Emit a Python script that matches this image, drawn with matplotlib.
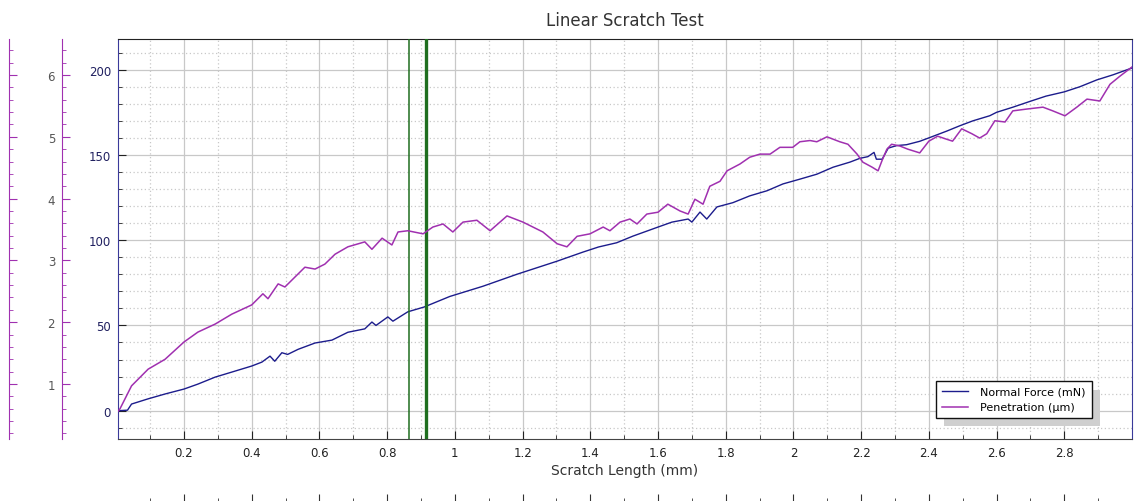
import matplotlib
matplotlib.use("Agg")
import matplotlib.pyplot as plt
from matplotlib.ticker import FixedLocator, MultipleLocator, FuncFormatter

# Normal force (mN) against scratch length (mm)
force_x = [0.005, 0.033, 0.045, 0.093, 0.144, 0.200, 0.241, 0.292, 0.342, 0.400,
           0.430, 0.454, 0.468, 0.489, 0.506, 0.537, 0.587, 0.637, 0.684, 0.734,
           0.755, 0.767, 0.802, 0.817, 0.861, 0.909, 0.985, 1.083, 1.183, 1.302,
           1.378, 1.424, 1.478, 1.526, 1.600, 1.641, 1.689, 1.700, 1.724, 1.744,
           1.774, 1.821, 1.871, 1.922, 1.969, 2.019, 2.069, 2.117, 2.167, 2.196,
           2.220, 2.238, 2.245, 2.262, 2.280, 2.305, 2.334, 2.373, 2.400, 2.453,
           2.490, 2.530, 2.580, 2.600, 2.648, 2.700, 2.746, 2.800, 2.846, 2.896,
           2.944, 3.000]
force_mn = [0, 0.3, 3.9, 6.9, 9.8, 12.7, 15.6, 19.7, 22.7, 26.2,
            28.5, 32.0, 29.0, 34.0, 33.0, 36.0, 39.7, 41.4, 46.0, 48.0,
            52.0, 50.0, 55.0, 52.5, 58.0, 60.8, 67.0, 73.0, 80.0, 87.7,
            93.0, 96.0, 98.5, 102.4, 107.7, 110.6, 112.4, 110.6, 116.5, 112.4,
            119.5, 122.0, 126.0, 129.0, 133.0, 135.8, 138.7, 142.8, 145.8, 148.0,
            149.0, 151.5, 147.5, 147.5, 154.0, 155.5, 156.0, 158.0, 160.0, 164.0,
            167.0, 170.0, 173.0, 175.0, 178.0, 181.5, 184.5, 187.0, 190.0, 194.0,
            197.0, 201.0]

# Penetration (um) against scratch length (mm)
pen_x = [0.005, 0.011, 0.045, 0.094, 0.144, 0.200, 0.241, 0.292, 0.341, 0.400,
         0.433, 0.448, 0.478, 0.498, 0.557, 0.587, 0.616, 0.646, 0.684, 0.734,
         0.755, 0.785, 0.814, 0.832, 0.861, 0.906, 0.935, 0.965, 0.994, 1.024,
         1.065, 1.104, 1.154, 1.201, 1.260, 1.302, 1.331, 1.361, 1.399, 1.438,
         1.458, 1.488, 1.517, 1.538, 1.567, 1.600, 1.629, 1.665, 1.689, 1.709,
         1.733, 1.753, 1.783, 1.804, 1.842, 1.871, 1.901, 1.931, 1.960, 1.998,
         2.019, 2.049, 2.069, 2.099, 2.137, 2.161, 2.188, 2.205, 2.232, 2.250,
         2.262, 2.276, 2.290, 2.315, 2.338, 2.373, 2.400, 2.426, 2.453, 2.470,
         2.497, 2.527, 2.550, 2.571, 2.595, 2.625, 2.648, 2.690, 2.737, 2.766,
         2.802, 2.837, 2.867, 2.905, 2.935, 2.964, 3.000]
pen_um = [0.56, 0.60, 0.97, 1.24, 1.40, 1.68, 1.84, 1.97, 2.13, 2.28,
          2.46, 2.38, 2.62, 2.57, 2.89, 2.86, 2.94, 3.10, 3.22, 3.30,
          3.18, 3.36, 3.25, 3.46, 3.48, 3.43, 3.54, 3.59, 3.46, 3.62,
          3.65, 3.48, 3.72, 3.62, 3.46, 3.27, 3.22, 3.39, 3.43, 3.54,
          3.48, 3.62, 3.67, 3.59, 3.75, 3.78, 3.91, 3.80, 3.75, 3.99,
          3.91, 4.20, 4.28, 4.45, 4.56, 4.67, 4.72, 4.72, 4.83, 4.83,
          4.92, 4.94, 4.92, 5.00, 4.92, 4.88, 4.72, 4.59, 4.51, 4.45,
          4.62, 4.80, 4.88, 4.85, 4.80, 4.74, 4.93, 5.01, 4.96, 4.93,
          5.13, 5.05, 4.98, 5.05, 5.26, 5.24, 5.42, 5.45, 5.48, 5.42,
          5.34, 5.48, 5.61, 5.58, 5.85, 5.98, 6.13]

marker_x = [0.865, 0.914]
x_major = [0.2, 0.4, 0.6, 0.8, 1.0, 1.2, 1.4, 1.6, 1.8, 2.0, 2.2, 2.4, 2.6, 2.8]
x_minor = [0.1, 0.3, 0.5, 0.7, 0.9, 1.1, 1.3, 1.5, 1.7, 1.9, 2.1, 2.3, 2.5, 2.7, 2.9]
force_ticks = [0, 50, 100, 150, 200]
pen_ticks = [1, 2, 3, 4, 5, 6]

navy = "#1c1c8c"
purple = "#a030b0"
gridc = "#c8c8c8"
xlim = (0.005, 3.0)

fig = plt.figure(figsize=(11.36, 5.02), dpi=100)
ax = fig.add_axes([118 / 1136, 62 / 502, 1014 / 1136, 400 / 502])

ln1, = ax.plot(force_x, force_mn, color=navy, lw=1.0, label="Normal Force (mN)")
for i, mx in enumerate(marker_x):
    ax.axvline(mx, color="#1f6e1f", lw=1.1 if i == 0 else 2.4, zorder=4)

ax.set_xlim(*xlim)
ax.set_ylim(-16.6, 218)
ax.xaxis.set_major_locator(FixedLocator(x_major))
ax.xaxis.set_minor_locator(FixedLocator(x_minor))
ax.xaxis.set_major_formatter(FuncFormatter(lambda v, p: f"{v:g}"))
ax.yaxis.set_major_locator(FixedLocator(force_ticks))
ax.yaxis.set_minor_locator(MultipleLocator(10))
ax.grid(which="major", color=gridc, lw=0.9, ls="-")
ax.grid(which="minor", color=gridc, lw=0.9, ls=(0, (1, 2)))
ax.set_axisbelow(True)
ax.tick_params(which="both", direction="in", top=True, right=True,
               labelsize=8.5, colors="#222222")
ax.tick_params(axis="y", labelcolor="#202060", pad=5)
ax.tick_params(axis="x", pad=5)
ax.tick_params(which="major", length=6)
ax.tick_params(which="minor", length=3)
ax.spines["left"].set_color("#3a3a9a")
ax.spines["right"].set_color("#3a3a9a")
ax.spines["top"].set_color("#222222")
ax.spines["bottom"].set_color("#444444")
ax.set_xlabel("Scratch Length (mm)", fontsize=10, color="#333333", labelpad=3)

# penetration axis, drawn on an offset left spine
ax2 = ax.twinx()
ln2, = ax2.plot(pen_x, pen_um, color=purple, lw=1.1, label="Penetration (\u00b5m)")
ax2.set_ylim(0.11, 6.583)
for a, off, lab in [(ax2, 40.3, True), (ax.twinx(), 78.3, False)]:
    a.set_ylim(0.11, 6.583)
    a.yaxis.tick_left()
    for s in ["top", "bottom", "right"]:
        a.spines[s].set_visible(False)
    a.spines["left"].set_position(("outward", off))
    a.spines["left"].set_color(purple)
    a.yaxis.set_major_locator(FixedLocator(pen_ticks))
    a.yaxis.set_minor_locator(MultipleLocator(0.2))
    a.tick_params(which="both", direction="in", color=purple, labelsize=8.5,
                  labelcolor="#555555", pad=5, labelleft=lab, labelright=False)
    a.tick_params(which="major", length=6)
    a.tick_params(which="minor", length=3)

# second length axis at the very bottom of the picture
ax4 = ax.twiny()
ax4.set_xlim(*xlim)
ax4.xaxis.tick_bottom()
for s in ["top", "left", "right"]:
    ax4.spines[s].set_visible(False)
ax4.spines["bottom"].set_position(("outward", 45.4))
ax4.spines["bottom"].set_color("#444444")
ax4.xaxis.set_major_locator(FixedLocator(x_major))
ax4.xaxis.set_minor_locator(FixedLocator(x_minor))
ax4.tick_params(which="both", direction="in", labelbottom=False, labeltop=False,
                color="#333333")
ax4.tick_params(which="major", length=6)
ax4.tick_params(which="minor", length=3)

leg = ax4.legend(handles=[ln1, ln2], loc="lower left",
                 bbox_to_anchor=(936 / 1136, 83 / 502), bbox_transform=fig.transFigure,
                 borderaxespad=0, fontsize=8, fancybox=False, framealpha=1,
                 edgecolor="#111111", handlelength=2.4, handletextpad=1.1,
                 labelspacing=0.5, borderpad=0.5,
                 shadow={"ox": 6, "oy": -6, "facecolor": "#cfcfcf",
                         "edgecolor": "none", "alpha": 1})
leg.get_frame().set_linewidth(1.0)

fig.text(625 / 1136, 1 - 21 / 502, "Linear Scratch Test", ha="center", va="center",
         fontsize=12, color="#333333")

fig.savefig("out.png", dpi=100)
